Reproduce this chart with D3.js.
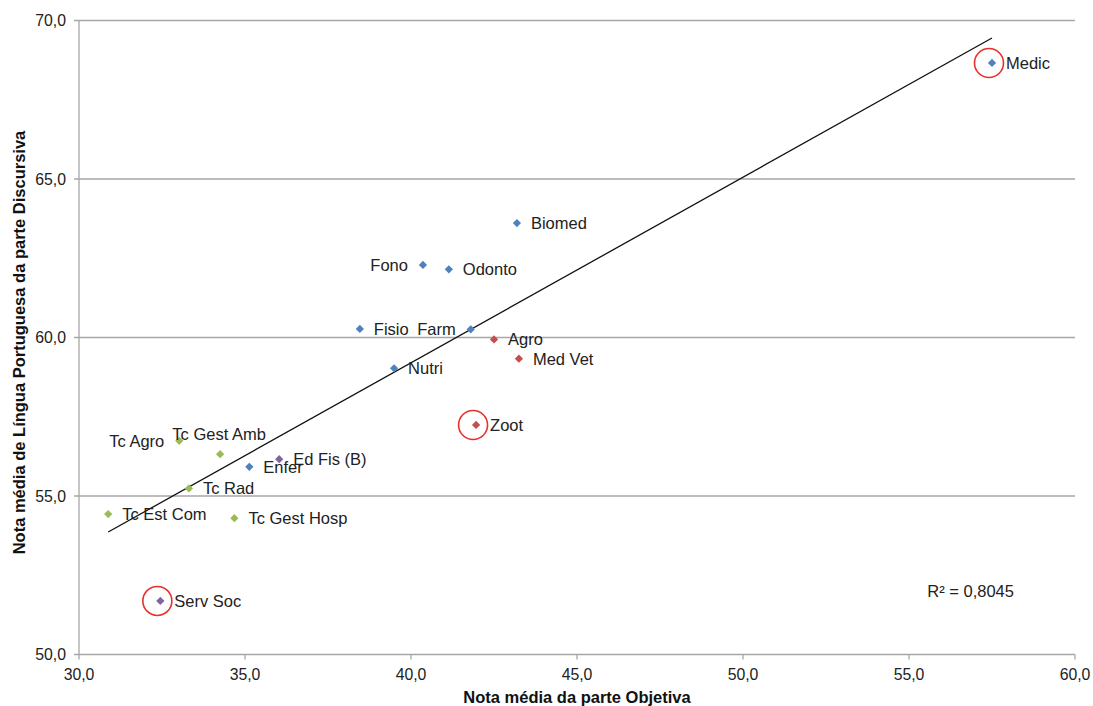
<!DOCTYPE html>
<html><head><meta charset="utf-8">
<script src="https://cdn.jsdelivr.net/npm/d3@7"></script>
<style>body{margin:0;background:#fff;} text{font-family:"Liberation Sans",Arial,sans-serif;}</style>
</head><body><svg id="c" width="1093" height="706"></svg>
<script>
const courses = ["Medic","Biomed","Fono","Odonto","Fisio","Farm","Agro","Med Vet","Nutri","Zoot","Tc Agro","Tc Gest Amb","Enfer","Ed Fis (B)","Tc Rad","Tc Est Com","Tc Gest Hosp","Serv Soc"];
const objetiva = [57.50,43.19,40.36,41.14,38.46,41.80,42.50,43.25,39.49,41.96,33.02,34.25,35.13,36.03,33.31,30.88,34.68,32.45];
const discursiva = [68.66,63.61,62.29,62.15,60.27,60.26,59.94,59.33,59.03,57.24,56.74,56.32,55.92,56.16,55.24,54.43,54.30,51.69];
const groups = ["saude","saude","saude","saude","saude","saude","agrarias","agrarias","saude","agrarias","tecnologo","tecnologo","saude","humanas","tecnologo","tecnologo","tecnologo","humanas"];
const labelSide = ["right","right","left","right","right","left","right","right","right","right","left","above","right","right","right","right","right","right"];
const highlighted = ["Medic","Zoot","Serv Soc"];
const xTicks = [30,35,40,45,50,55,60];
const yTicks = [50,55,60,65,70];
const r2Label = "R² = 0,8045";

const colors = {saude:"#4F81BD", agrarias:"#C0504D", tecnologo:"#9BBB59", humanas:"#8064A2"};
const fmt = d => d.toFixed(1).replace(".", ",");

const svg = d3.select("#c");
const x = d3.scaleLinear().domain([30,60]).range([79,1075]);
const y = d3.scaleLinear().domain([50,70]).range([654.5,20.5]);

// gridlines
svg.append("g").selectAll("line").data(yTicks).join("line")
  .attr("x1", x(30)-5).attr("x2", x(60)).attr("y1", d=>y(d)).attr("y2", d=>y(d))
  .attr("stroke","#A6A6A6").attr("stroke-width",1.3);
svg.append("line").attr("x1",x(30)).attr("x2",x(30)).attr("y1",y(70)).attr("y2",y(50)).attr("stroke","#A6A6A6").attr("stroke-width",1.3);
svg.append("g").selectAll("line").data(xTicks).join("line")
  .attr("x1",d=>x(d)).attr("x2",d=>x(d)).attr("y1",y(50)).attr("y2",y(50)+5)
  .attr("stroke","#A6A6A6").attr("stroke-width",1.3);
svg.append("g").selectAll("text").data(xTicks).join("text")
  .attr("x",d=>x(d)).attr("y",y(50)+25).attr("text-anchor","middle")
  .attr("font-size",15.8).attr("fill","#222").text(fmt);
svg.append("g").selectAll("text").data(yTicks).join("text")
  .attr("x",x(30)-13).attr("y",d=>y(d)+5.5).attr("text-anchor","end")
  .attr("font-size",15.8).attr("fill","#222").text(fmt);

// axis titles
svg.append("text").attr("x",577).attr("y",703).attr("text-anchor","middle")
  .attr("font-size",16.5).attr("font-weight","bold").attr("fill","#111").text("Nota média da parte Objetiva");
svg.append("text").attr("transform",`translate(25,${(y(50)+y(70))/2+5}) rotate(-90)`).attr("text-anchor","middle")
  .attr("font-size",16.5).attr("font-weight","bold").attr("fill","#111").text("Nota média de Língua Portuguesa da parte Discursiva");

// regression
const n = objetiva.length;
const mx = d3.mean(objetiva), my = d3.mean(discursiva);
let sxy=0,sxx=0;
for(let i=0;i<n;i++){sxy+=(objetiva[i]-mx)*(discursiva[i]-my);sxx+=(objetiva[i]-mx)**2;}
const b = sxy/sxx, a = my - b*mx;
const [xmin,xmax] = d3.extent(objetiva);
svg.append("line").attr("x1",x(xmin)).attr("y1",y(a+b*xmin)).attr("x2",x(xmax)).attr("y2",y(a+b*xmax))
  .attr("stroke","#111").attr("stroke-width",1.3);

svg.append("text").attr("x",x(55.55)).attr("y",y(52.0)+5.5).attr("font-size",16.5).attr("fill","#222").text(r2Label);

const data = courses.map((c,i)=>({c, xv:objetiva[i], yv:discursiva[i], g:groups[i], side:labelSide[i]}));

svg.append("g").selectAll("circle").data(data.filter(d=>highlighted.includes(d.c))).join("circle")
  .attr("cx",d=>x(d.xv)-3).attr("cy",d=>y(d.yv)).attr("r",14.5)
  .attr("fill","none").attr("stroke","#E8302C").attr("stroke-width",1.6);

const sym = d3.symbol().type(d3.symbolSquare).size(34);
svg.append("g").selectAll("path").data(data).join("path")
  .attr("d", sym).attr("transform",d=>`translate(${x(d.xv)},${y(d.yv)}) rotate(45)`)
  .attr("fill",d=>colors[d.g]);

svg.append("g").selectAll("text").data(data).join("text")
  .attr("x",d=> d.side==="right"? x(d.xv)+14 : d.side==="left"? x(d.xv)-15 : x(d.xv)-1)
  .attr("y",d=> d.side==="above"? y(d.yv)-14 : y(d.yv)+6)
  .attr("text-anchor",d=> d.side==="right"?"start": d.side==="left"?"end":"middle")
  .attr("font-size",16.5).attr("fill","#222").text(d=>d.c);
</script></body></html>
